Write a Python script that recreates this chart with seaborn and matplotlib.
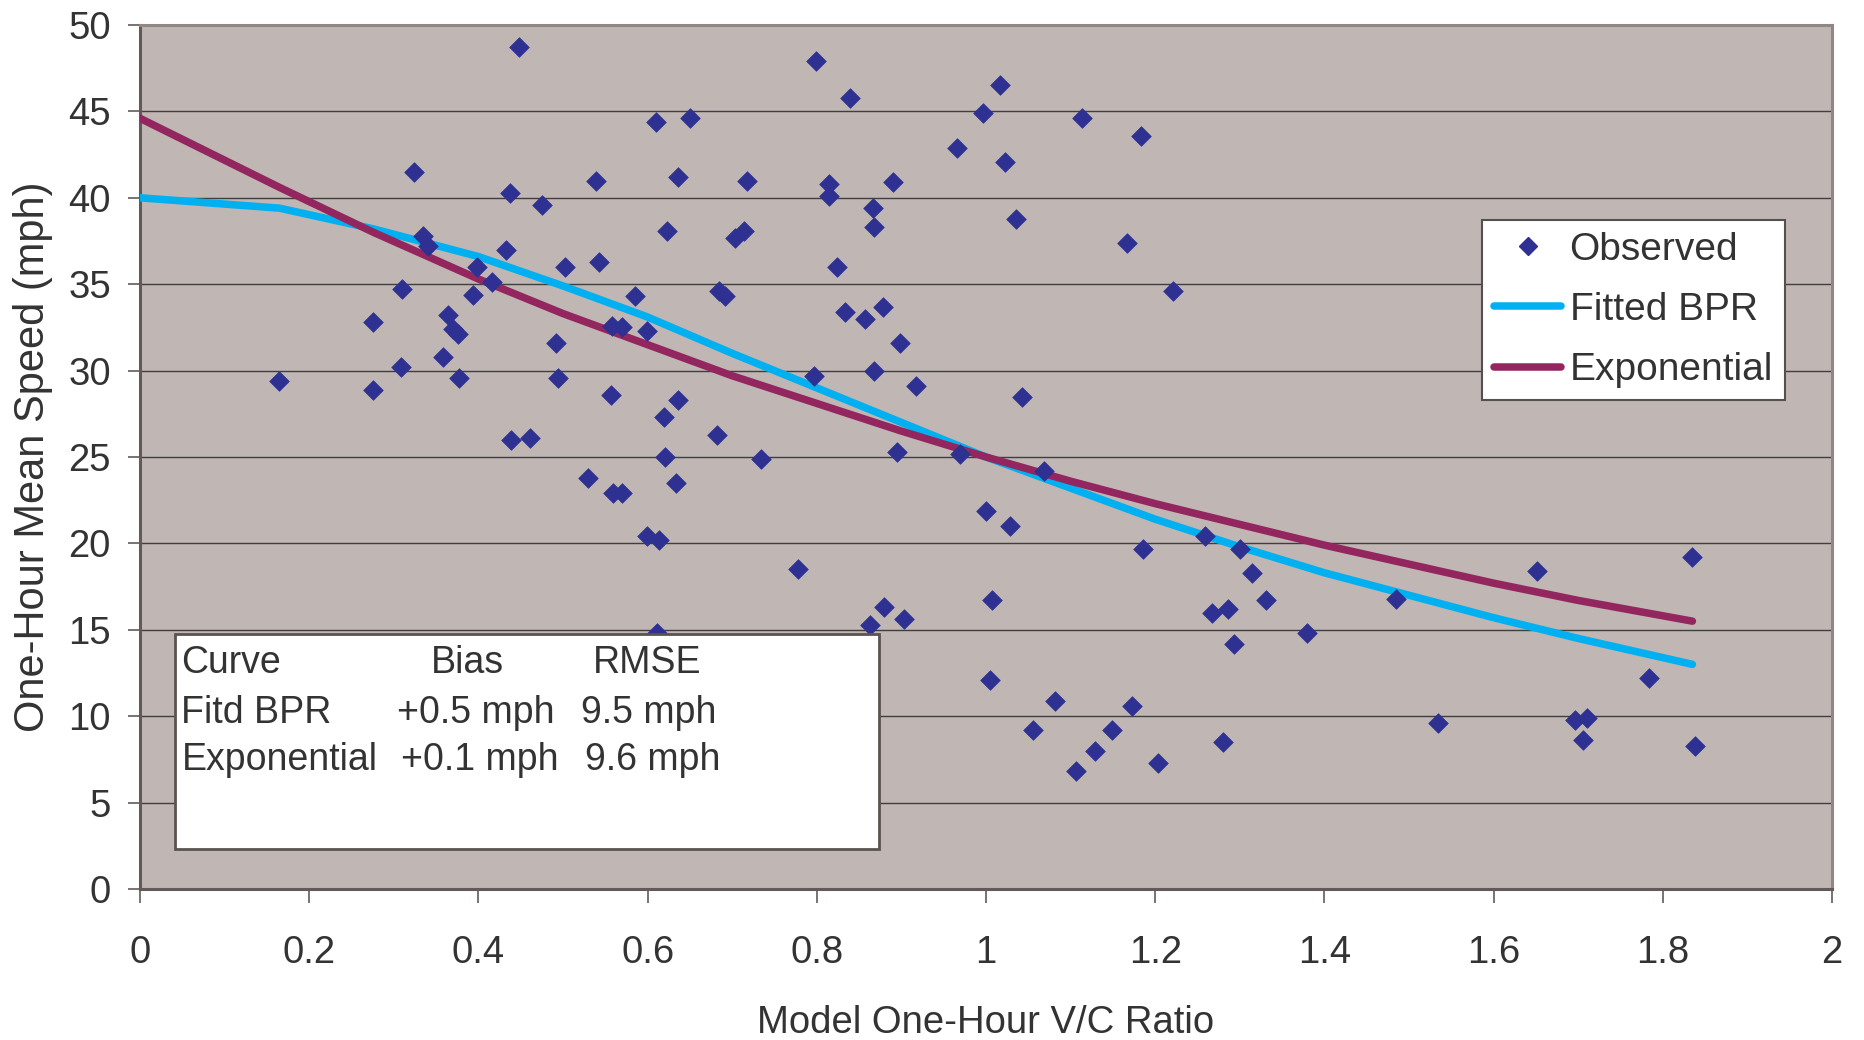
import matplotlib
matplotlib.use("Agg")
import matplotlib.pyplot as plt
import seaborn as sns
import pandas as pd
from matplotlib.patches import Rectangle
from matplotlib.lines import Line2D

# ---------------- data ----------------
vc_obs = [0.164, 0.275, 0.276, 0.310, 0.308, 0.324, 0.334, 0.340, 0.364, 0.358,
          0.370, 0.376, 0.377, 0.394, 0.398, 0.416, 0.433, 0.437, 0.438, 0.448,
          0.461, 0.475, 0.492, 0.494, 0.502, 0.530, 0.539, 0.543, 0.557, 0.558,
          0.570, 0.559, 0.570, 0.585, 0.599, 0.599, 0.613, 0.610, 0.611, 0.619,
          0.623, 0.620, 0.636, 0.636, 0.634, 0.650, 0.682, 0.684, 0.691, 0.703,
          0.714, 0.717, 0.734, 0.778, 0.797, 0.799, 0.814, 0.815, 0.824, 0.833,
          0.839, 0.857, 0.866, 0.868, 0.868, 0.863, 0.878, 0.880, 0.890, 0.898,
          0.895, 0.903, 0.917, 0.966, 0.969, 0.996, 1.000, 1.007, 1.005, 1.016,
          1.023, 1.028, 1.035, 1.042, 1.056, 1.068, 1.082, 1.106, 1.113, 1.129,
          1.149, 1.167, 1.172, 1.183, 1.186, 1.203, 1.221, 1.259, 1.267, 1.286,
          1.280, 1.293, 1.300, 1.314, 1.331, 1.380, 1.485, 1.534, 1.651, 1.696,
          1.710, 1.706, 1.784, 1.835, 1.838]
speed_obs = [29.4, 32.8, 28.9, 34.7, 30.2, 41.5, 37.8, 37.2, 33.2, 30.8,
             32.4, 32.1, 29.6, 34.4, 36.0, 35.1, 37.0, 40.3, 26.0, 48.7,
             26.1, 39.6, 31.6, 29.6, 36.0, 23.8, 41.0, 36.3, 28.6, 32.6,
             32.5, 22.9, 22.9, 34.3, 32.3, 20.4, 20.2, 44.4, 14.8, 27.3,
             38.1, 25.0, 41.2, 28.3, 23.5, 44.6, 26.3, 34.6, 34.3, 37.7,
             38.1, 41.0, 24.9, 18.5, 29.7, 47.9, 40.8, 40.1, 36.0, 33.4,
             45.8, 33.0, 39.4, 38.3, 30.0, 15.3, 33.7, 16.3, 40.9, 31.6,
             25.3, 15.6, 29.1, 42.9, 25.2, 44.9, 21.9, 16.7, 12.1, 46.5,
             42.1, 21.0, 38.8, 28.5, 9.2, 24.2, 10.9, 6.8, 44.6, 8.0,
             9.2, 37.4, 10.6, 43.6, 19.7, 7.3, 34.6, 20.4, 16.0, 16.2,
             8.5, 14.2, 19.7, 18.3, 16.7, 14.8, 16.8, 9.6, 18.4, 9.8,
             9.9, 8.6, 12.2, 19.2, 8.3]

vc_curve = [0.0, 0.165, 0.276, 0.4, 0.5, 0.6, 0.7, 0.8, 0.9, 1.0,
            1.1, 1.2, 1.3, 1.4, 1.5, 1.6, 1.7, 1.835]
bpr_speed = [40.0, 39.4, 38.2, 36.6, 34.9, 33.1, 31.0, 29.0, 27.0, 25.0,
             23.2, 21.4, 19.8, 18.3, 17.0, 15.7, 14.5, 13.0]
exp_speed = [44.6, 40.6, 38.0, 35.3, 33.3, 31.5, 29.7, 28.1, 26.5, 25.0,
             23.6, 22.3, 21.1, 19.9, 18.8, 17.7, 16.7, 15.5]

x_ticks = [0, 0.2, 0.4, 0.6, 0.8, 1.0, 1.2, 1.4, 1.6, 1.8, 2.0]
x_tick_labels = ["0", "0.2", "0.4", "0.6", "0.8", "1", "1.2", "1.4", "1.6", "1.8", "2"]
y_ticks = [0, 5, 10, 15, 20, 25, 30, 35, 40, 45, 50]

table_header = ["Curve", "Bias", "RMSE"]
table_rows = [["Fitd BPR", "+0.5 mph", "9.5 mph"],
              ["Exponential", "+0.1 mph", "9.6 mph"]]

# ---------------- style ----------------
sns.set_style("white")
plt.rcParams["font.family"] = ["Liberation Sans", "DejaVu Sans"]
TXT = "#333333"
BG = "#C0B6B3"
C_OBS = "#2E3192"
C_BPR = "#00B0F0"
C_EXP = "#93265F"

fig = plt.figure(figsize=(18.65, 10.4), dpi=100)
ax = fig.add_axes([140 / 1865, 1 - 889 / 1040, (1832 - 140) / 1865, (889 - 25) / 1040])
ax.set_facecolor(BG)

obs = pd.DataFrame({"vc": vc_obs, "speed": speed_obs})
curves = pd.DataFrame({"vc": vc_curve, "bpr": bpr_speed, "exp": exp_speed})

sns.lineplot(data=curves, x="vc", y="bpr", ax=ax, color=C_BPR, lw=5.4,
             estimator=None, sort=True, zorder=3, label="Fitted BPR")
sns.lineplot(data=curves, x="vc", y="exp", ax=ax, color=C_EXP, lw=5.4,
             estimator=None, sort=True, zorder=3, label="Exponential")
sns.scatterplot(data=obs, x="vc", y="speed", ax=ax, marker="D", s=100,
                color=C_OBS, edgecolor=C_OBS, linewidth=0.5, zorder=4,
                label="Observed")

ax.set_xlim(0, 2)
ax.set_ylim(0, 50)
ax.set_xticks(x_ticks)
ax.set_xticklabels(x_tick_labels)
ax.set_yticks(y_ticks)
ax.yaxis.grid(True, color="#3f3f3f", lw=1.0, zorder=1)
ax.xaxis.grid(False)
ax.set_axisbelow(True)

for side in ["top", "right"]:
    ax.spines[side].set_color("#918784")
    ax.spines[side].set_linewidth(2.2)
for side in ["left", "bottom"]:
    ax.spines[side].set_color("#625a58")
    ax.spines[side].set_linewidth(2.2)

ax.tick_params(axis="x", direction="out", length=10, width=1.2, color="#625a58",
               labelsize=27.5, labelcolor=TXT, pad=23, bottom=True)
ax.tick_params(axis="y", direction="out", length=9, width=1.2, color="#625a58",
               labelsize=27.5, labelcolor=TXT, pad=12, left=True)

ax.set_xlabel("Model One-Hour V/C Ratio", fontsize=27.5, color=TXT)
ax.set_ylabel("One-Hour Mean Speed (mph)", fontsize=30, color=TXT)
ax.xaxis.label.set_verticalalignment("center")
ax.yaxis.label.set_verticalalignment("center")
ax.xaxis.set_label_coords(0.5, -0.155)
ax.yaxis.set_label_coords(-0.0632, 0.5)

# legend
handles = [Line2D([], [], marker="D", ls="none", color=C_OBS, markersize=9),
           Line2D([], [], color=C_BPR, lw=5.4, solid_capstyle="round"),
           Line2D([], [], color=C_EXP, lw=5.4, solid_capstyle="round")]
leg = ax.legend(handles, ["Observed", "Fitted BPR", "Exponential"],
                loc="upper right", bbox_to_anchor=(0.972, 0.774),
                borderaxespad=0, fontsize=28, frameon=True, fancybox=False,
                framealpha=1, edgecolor="#555050", handlelength=1.72,
                handletextpad=0.22, borderpad=0.3, labelspacing=0.62)
leg.get_frame().set_linewidth(1.5)
for t in leg.get_texts():
    t.set_color(TXT)
leg.set_zorder(6)

# statistics table box
ax.add_patch(Rectangle((0.0408, 2.33), 0.873 - 0.0408, 14.77 - 2.33,
                       facecolor="white", edgecolor="#5a5351", lw=2.0, zorder=5))
row_y = [12.5, 9.62, 6.87]
col_centers = [None, [0.387, 0.397, 0.4015], [0.599, 0.601, 0.606]]
all_rows = [table_header] + table_rows
for i, row in enumerate(all_rows):
    ax.text(0.049, row_y[i], row[0], fontsize=27, color=TXT, ha="left",
            va="baseline", zorder=6)
    ax.text(col_centers[1][i], row_y[i], row[1], fontsize=27, color=TXT,
            ha="center", va="baseline", zorder=6)
    ax.text(col_centers[2][i], row_y[i], row[2], fontsize=27, color=TXT,
            ha="center", va="baseline", zorder=6)

fig.savefig("out.png", dpi=100, facecolor="white")
